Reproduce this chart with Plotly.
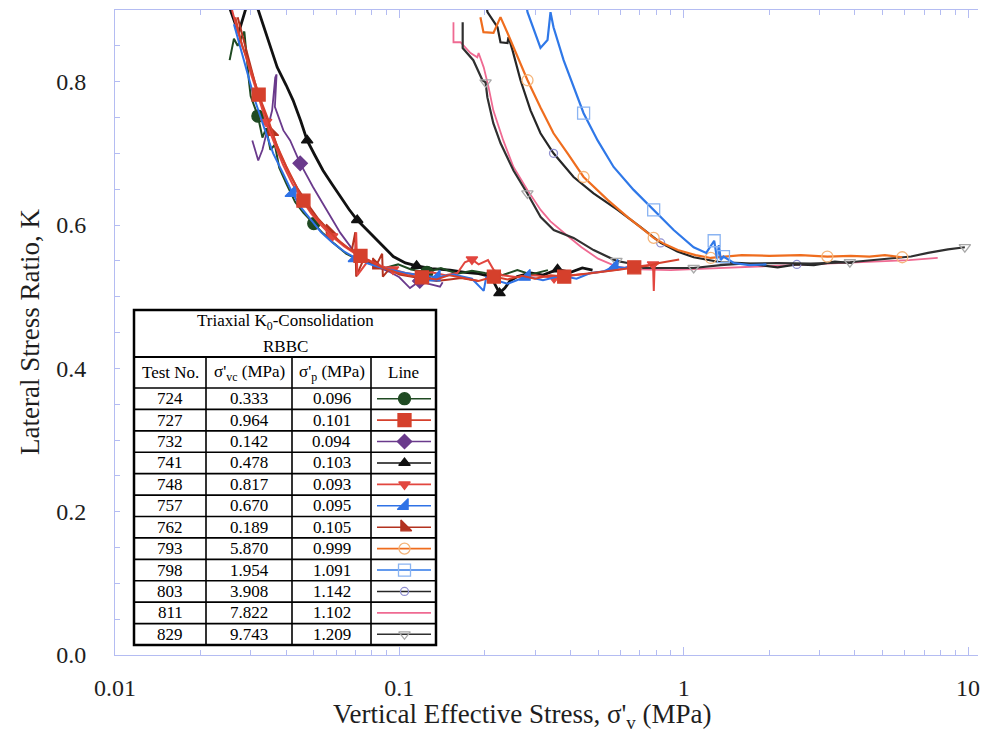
import plotly.graph_objects as go

# ---------------- data (sigma'_v in MPa, K) ----------------
x_724 = [0.0253, 0.0262, 0.0270, 0.0285, 0.0296, 0.0300, 0.0318, 0.0330, 0.0340, 0.0352, 0.0365, 0.0378, 0.0400,
         0.0430, 0.0460, 0.0500, 0.0540, 0.0590, 0.0650, 0.0720, 0.0800, 0.0890, 0.0990, 0.110, 0.125, 0.140,
         0.160, 0.180, 0.200, 0.230, 0.260, 0.290, 0.333]
k_724 = [0.830, 0.860, 0.850, 0.870, 0.800, 0.780, 0.752, 0.722, 0.735, 0.705, 0.712, 0.680, 0.658,
         0.632, 0.617, 0.602, 0.588, 0.574, 0.560, 0.551, 0.545, 0.540, 0.545, 0.538, 0.534, 0.540,
         0.532, 0.536, 0.533, 0.530, 0.537, 0.531, 0.537]

x_727 = [0.0265, 0.0280, 0.0300, 0.0320, 0.0345, 0.0370, 0.0400, 0.0430, 0.0460, 0.0500, 0.0550, 0.0600,
         0.0660, 0.0730, 0.0800, 0.0880, 0.0970, 0.107, 0.120, 0.135, 0.150, 0.170, 0.190, 0.215, 0.240,
         0.270, 0.300, 0.340, 0.380, 0.430, 0.480, 0.540, 0.600, 0.670, 0.750, 0.820, 0.880, 0.964]
k_727 = [0.890, 0.850, 0.818, 0.782, 0.748, 0.712, 0.682, 0.656, 0.634, 0.614, 0.596, 0.581,
         0.568, 0.557, 0.548, 0.540, 0.534, 0.530, 0.527, 0.524, 0.530, 0.526, 0.522, 0.528, 0.524,
         0.529, 0.525, 0.530, 0.528, 0.531, 0.533, 0.536, 0.538, 0.541, 0.543, 0.547, 0.549, 0.552]

x_732 = [0.0304, 0.0319, 0.0330, 0.0345, 0.0357, 0.0366, 0.0370, 0.0365, 0.0376, 0.0391, 0.0413, 0.0448,
         0.0497, 0.0557, 0.0620, 0.0711, 0.0810, 0.0920, 0.100, 0.109, 0.118, 0.127, 0.139, 0.142]
k_732 = [0.718, 0.690, 0.705, 0.735, 0.760, 0.806, 0.810, 0.765, 0.750, 0.732, 0.718, 0.686,
         0.653, 0.621, 0.589, 0.557, 0.544, 0.535, 0.527, 0.512, 0.522, 0.518, 0.514, 0.520]

x_741 = [0.0252, 0.0272, 0.0290, 0.0300, 0.0319, 0.0345, 0.0372, 0.0400, 0.0423, 0.0450, 0.0474, 0.0505,
         0.0539, 0.0580, 0.0620, 0.0665, 0.0711, 0.0770, 0.0835, 0.0900, 0.0952, 0.105, 0.115, 0.130,
         0.151, 0.170, 0.190, 0.210, 0.225, 0.235, 0.245, 0.260, 0.290, 0.320, 0.360, 0.400, 0.440, 0.478]
k_741 = [0.905, 0.868, 0.905, 0.920, 0.900, 0.860, 0.820, 0.795, 0.774, 0.745, 0.718, 0.697,
         0.676, 0.657, 0.639, 0.622, 0.607, 0.593, 0.579, 0.566, 0.556, 0.547, 0.543, 0.539,
         0.537, 0.534, 0.532, 0.528, 0.505, 0.512, 0.522, 0.528, 0.533, 0.530, 0.538, 0.534, 0.540, 0.537]

x_748 = [0.0258, 0.0270, 0.0285, 0.0300, 0.0320, 0.0340, 0.0365, 0.0390, 0.0420, 0.0450, 0.0490, 0.0530,
         0.0580, 0.0640, 0.0700, 0.0705, 0.0712, 0.0780, 0.0860, 0.0950, 0.105, 0.115, 0.130, 0.145,
         0.160, 0.170, 0.180, 0.190, 0.205, 0.215, 0.230, 0.260, 0.300, 0.350, 0.400, 0.460, 0.520,
         0.600, 0.680, 0.740, 0.780, 0.785, 0.790, 0.817]
k_748 = [0.900, 0.870, 0.842, 0.812, 0.778, 0.744, 0.712, 0.684, 0.658, 0.638, 0.616, 0.600,
         0.584, 0.570, 0.560, 0.590, 0.530, 0.551, 0.543, 0.538, 0.533, 0.531, 0.534, 0.530,
         0.533, 0.548, 0.552, 0.545, 0.551, 0.537, 0.530, 0.527, 0.530, 0.526, 0.530, 0.532, 0.535,
         0.538, 0.541, 0.543, 0.545, 0.508, 0.543, 0.547]

x_757 = [0.0262, 0.0275, 0.0290, 0.0310, 0.0335, 0.0360, 0.0390, 0.0420, 0.0450, 0.0490, 0.0530, 0.0580,
         0.0640, 0.0700, 0.0780, 0.0870, 0.0960, 0.105, 0.118, 0.135, 0.155, 0.180, 0.198, 0.202, 0.240,
         0.280, 0.320, 0.370, 0.420, 0.470, 0.520, 0.570, 0.620, 0.670]
k_757 = [0.880, 0.850, 0.815, 0.775, 0.735, 0.700, 0.672, 0.645, 0.625, 0.607, 0.590, 0.576,
         0.563, 0.554, 0.546, 0.540, 0.536, 0.533, 0.530, 0.527, 0.531, 0.525, 0.508, 0.527, 0.518,
         0.528, 0.523, 0.529, 0.525, 0.533, 0.535, 0.542, 0.540, 0.545]

x_762 = [0.0270, 0.0290, 0.0310, 0.0330, 0.0355, 0.0380, 0.0410, 0.0440, 0.0480, 0.0520, 0.0570, 0.0620,
         0.0680, 0.0700, 0.0705, 0.0750, 0.0830, 0.0870, 0.0875, 0.0920, 0.100, 0.110, 0.120, 0.135,
         0.150, 0.165, 0.189]
k_762 = [0.890, 0.845, 0.800, 0.765, 0.730, 0.700, 0.672, 0.650, 0.627, 0.608, 0.591, 0.576,
         0.564, 0.590, 0.528, 0.553, 0.544, 0.560, 0.528, 0.538, 0.531, 0.528, 0.525, 0.522,
         0.524, 0.526, 0.522]

x_793 = [0.1928, 0.1976, 0.2143, 0.2268, 0.2401, 0.2603, 0.2823, 0.3136, 0.3485, 0.3905, 0.4446, 0.540,
         0.635, 0.747, 0.784, 0.860, 0.953, 1.10, 1.245, 1.60, 2.00, 2.58, 3.20, 3.87, 4.50, 5.10, 5.87]
k_793 = [0.890, 0.869, 0.868, 0.890, 0.868, 0.834, 0.802, 0.764, 0.728, 0.700, 0.667, 0.635,
         0.611, 0.589, 0.582, 0.573, 0.565, 0.558, 0.554, 0.558, 0.557, 0.558, 0.556, 0.557, 0.556, 0.558, 0.555]

x_798 = [0.276, 0.2823, 0.3136, 0.3319, 0.3401, 0.3485, 0.3781, 0.4100, 0.4446, 0.4980, 0.5669, 0.6666,
         0.7842, 0.9220, 1.084, 1.200, 1.280, 1.310, 1.330, 1.350, 1.380, 1.500, 1.700, 1.954]
k_798 = [0.920, 0.897, 0.847, 0.858, 0.897, 0.876, 0.830, 0.792, 0.756, 0.718, 0.681, 0.649,
         0.621, 0.593, 0.569, 0.561, 0.578, 0.553, 0.572, 0.551, 0.556, 0.547, 0.544, 0.545]

x_803 = [0.200, 0.2041, 0.2214, 0.2268, 0.2401, 0.2420, 0.2500, 0.2668, 0.2893, 0.3136, 0.3485, 0.4100,
         0.4820, 0.5856, 0.7056, 0.7840, 0.830, 0.950, 1.084, 1.350, 1.600, 2.140, 2.500, 2.870, 3.400, 3.908]
k_803 = [0.920, 0.897, 0.876, 0.855, 0.854, 0.862, 0.844, 0.802, 0.760, 0.728, 0.700, 0.667,
         0.644, 0.621, 0.597, 0.583, 0.575, 0.563, 0.555, 0.548, 0.547, 0.541, 0.545, 0.544, 0.549, 0.547]

x_811 = [0.155, 0.155, 0.164, 0.178, 0.188, 0.190, 0.198, 0.206, 0.214, 0.232, 0.252, 0.282, 0.314, 0.340,
         0.390, 0.437, 0.500, 0.581, 0.700, 0.900, 1.20, 1.60, 2.20, 3.00, 3.84, 5.00, 6.20, 7.822]
k_811 = [0.883, 0.855, 0.855, 0.840, 0.834, 0.840, 0.820, 0.792, 0.760, 0.718, 0.681, 0.649, 0.621, 0.605,
         0.585, 0.569, 0.553, 0.542, 0.538, 0.537, 0.539, 0.541, 0.543, 0.545, 0.547, 0.549, 0.551, 0.554]

x_829 = [0.167, 0.167, 0.182, 0.196, 0.201, 0.204, 0.214, 0.227, 0.252, 0.282, 0.314, 0.349, 0.410, 0.482,
         0.580, 0.635, 0.720, 0.830, 0.950, 1.084, 1.350, 1.600, 2.140, 2.800, 3.840, 5.100, 6.300, 7.230,
         8.500, 9.743]
k_829 = [0.883, 0.847, 0.830, 0.802, 0.799, 0.778, 0.742, 0.714, 0.676, 0.644, 0.611, 0.593, 0.582, 0.565,
         0.550, 0.547, 0.540, 0.540, 0.541, 0.540, 0.544, 0.546, 0.547, 0.546, 0.548, 0.553, 0.556, 0.561,
         0.566, 0.569]

test_no = ["724", "727", "732", "741", "748", "757", "762", "793", "798", "803", "811", "829"]
sigma_vc = ["0.333", "0.964", "0.142", "0.478", "0.817", "0.670", "0.189", "5.870", "1.954", "3.908", "7.822", "9.743"]
sigma_p = ["0.096", "0.101", "0.094", "0.103", "0.093", "0.095", "0.105", "0.999", "1.091", "1.142", "1.102", "1.209"]

x_ticks = [0.01, 0.1, 1, 10]
y_ticks = [0.0, 0.2, 0.4, 0.6, 0.8]

DATA = {
    "724": (x_724, k_724), "727": (x_727, k_727), "732": (x_732, k_732), "741": (x_741, k_741),
    "748": (x_748, k_748), "757": (x_757, k_757), "762": (x_762, k_762), "793": (x_793, k_793),
    "798": (x_798, k_798), "803": (x_803, k_803), "811": (x_811, k_811), "829": (x_829, k_829),
}

# ---------------- styles ----------------
# line colour, width, marker symbol, marker fill, marker line colour, marker size, step, offset
STYLE = {
    "724": ("#1f4a22", 2.0, "circle", "#1f4a22", "#1f4a22", 12, 9, 6),
    "727": ("#d5402c", 2.0, "square", "#d5402c", "#d5402c", 13, 5, 3),
    "732": ("#6a3a8c", 1.8, "diamond", "#6a3a8c", "#6a3a8c", 11, 9, 11),
    "741": ("#111111", 2.8, "triangle-up", "#111111", "#111111", 10, 6, 10),
    "748": ("#e2463f", 2.0, "triangle-down", "#e2463f", "#e2463f", 10, 7, 5),
    "757": ("#2f72e6", 2.0, "triangle-se", "#2f72e6", "#2f72e6", 12, 6, 7),
    "762": ("#b3321f", 2.0, "triangle-sw", "#b3321f", "#b3321f", 12, 6, 4),
    "793": ("#ef6d1e", 2.2, "circle-open", "#f5b57a", "#f5b57a", 11, 4, 6),
    "798": ("#2f78e8", 2.2, "square-open", "#8ab4f2", "#8ab4f2", 12, 4, 8),
    "803": ("#262626", 2.2, "circle-open", "#8f8fd0", "#8f8fd0", 8, 6, 10),
    "811": ("#ef6a92", 1.8, None, None, None, 0, 1, 0),
    "829": ("#303030", 2.2, "triangle-down-open", "#a8a8a8", "#a8a8a8", 10, 5, 4),
}

# ---------------- geometry (reference pixels) ----------------
W, H = 982, 738
PL, PR, PT, PB = 115, 978, 10, 655


def fx(px):
    return (px - PL) / (PR - PL)


def fy(py):
    return (PB - py) / (PB - PT)


FONT = "Liberation Serif"
AXC = "#b4bcf2"
TXT = "#1e1e1e"

fig = go.Figure()

order = ["811", "803", "829", "793", "798", "741", "732", "724", "762", "748", "757", "727"]
for key in order:
    xs, ks = DATA[key]
    col, lw, sym, mfill, mline, msz, step, off = STYLE[key]
    fig.add_trace(go.Scatter(x=xs, y=ks, mode="lines", line=dict(color=col, width=lw),
                             showlegend=False, hoverinfo="skip"))
    if sym:
        idx = list(range(off, len(xs), step))
        fig.add_trace(go.Scatter(x=[xs[i] for i in idx], y=[ks[i] for i in idx], mode="markers",
                                 marker=dict(symbol=sym, size=msz, color=mfill,
                                             line=dict(color=mline, width=1.3)),
                                 showlegend=False, hoverinfo="skip", cliponaxis=True))

# ---------------- table legend ----------------
TL, TR, TT = 134, 436, 310
COLS = [206, 292, 371]
Y_TITLE_B, Y_HEAD_B = 357, 388
ROW_H = (645 - Y_HEAD_B) / 12
TB = Y_HEAD_B + 12 * ROW_H

shapes = []
shapes.append(dict(type="rect", xref="paper", yref="paper", x0=fx(TL), x1=fx(TR), y0=fy(TB), y1=fy(TT),
                   line=dict(color="black", width=2.5), fillcolor="rgba(0,0,0,0)", layer="above"))
shapes.append(dict(type="line", xref="paper", yref="paper", x0=fx(TL), x1=fx(TR), y0=fy(Y_TITLE_B),
                   y1=fy(Y_TITLE_B), line=dict(color="black", width=2)))
for i in range(12):
    yy = Y_HEAD_B + i * ROW_H
    shapes.append(dict(type="line", xref="paper", yref="paper", x0=fx(TL), x1=fx(TR), y0=fy(yy), y1=fy(yy),
                       line=dict(color="black", width=1.6)))
for cx in COLS:
    shapes.append(dict(type="line", xref="paper", yref="paper", x0=fx(cx), x1=fx(cx), y0=fy(TB),
                       y1=fy(Y_TITLE_B), line=dict(color="black", width=1.6)))

ann = []
TF = dict(family=FONT, size=17, color="black")


def add_text(px, py, text, font, angle=0):
    ann.append(dict(x=fx(px), y=fy(py), xref="paper", yref="paper", showarrow=False,
                    xanchor="center", yanchor="middle", text=text, font=font, textangle=angle))


add_text((TL + TR) / 2, 322, "Triaxial K<sub>0</sub>-Consolidation", TF)
add_text((TL + TR) / 2, 346, "RBBC", TF)
centers = [(TL + COLS[0]) / 2, (COLS[0] + COLS[1]) / 2, (COLS[1] + COLS[2]) / 2, (COLS[2] + TR) / 2]
heads = ["Test No.", "σ'<sub>vc</sub> (MPa)", "σ'<sub>p</sub> (MPa)", "Line"]
for c, t in zip(centers, heads):
    add_text(c, (Y_TITLE_B + Y_HEAD_B) / 2, t, TF)
for i in range(12):
    yc = Y_HEAD_B + (i + 0.5) * ROW_H
    for c, t in zip(centers[:3], [test_no[i], sigma_vc[i], sigma_p[i]]):
        add_text(c, yc, t, TF)
    col, lw, sym, mfill, mline, msz, step, off = STYLE[test_no[i]]
    fig.add_trace(go.Scatter(x=[fx(COLS[2] + 6), fx(TR - 5)], y=[fy(yc), fy(yc)], xaxis="x2", yaxis="y2",
                             mode="lines", line=dict(color=col, width=1.6),
                             showlegend=False, hoverinfo="skip"))
    if sym:
        fig.add_trace(go.Scatter(x=[fx(centers[3] + 1)], y=[fy(yc)], xaxis="x2", yaxis="y2", mode="markers",
                                 marker=dict(symbol=sym, size=msz, color=mfill, line=dict(color=mline, width=1.3)),
                                 showlegend=False, hoverinfo="skip"))

# axis titles
add_text(522, 716, "Vertical Effective Stress, σ'<sub>v</sub> (MPa)", dict(family=FONT, size=27, color=TXT))
add_text(30, 332, "Lateral Stress Ratio, K", dict(family=FONT, size=27, color=TXT), angle=-90)

fig.update_layout(
    width=W, height=H,
    margin=dict(l=PL, r=W - PR, t=PT, b=H - PB, pad=0),
    paper_bgcolor="white", plot_bgcolor="white",
    font=dict(family=FONT, size=24, color=TXT),
    shapes=shapes, annotations=ann, showlegend=False,
    xaxis=dict(type="log", range=[-2, 1.035], tickmode="array", tickvals=x_ticks,
               ticktext=[str(v) for v in x_ticks], automargin=False,
               showgrid=False, zeroline=False, showline=True, linecolor=AXC, linewidth=1,
               mirror="ticks", ticks="inside", ticklen=8, tickcolor=AXC,
               minor=dict(ticks="inside", ticklen=5, tickcolor=AXC, dtick="D1", showgrid=False),
               ticklabelstandoff=11, tickfont=dict(family=FONT, size=24, color=TXT)),
    yaxis=dict(range=[0, 0.9], tickmode="array", tickvals=y_ticks,
               ticktext=["%.1f" % v for v in y_ticks], automargin=False,
               showgrid=False, zeroline=False, showline=True, linecolor=AXC, linewidth=1,
               ticks="inside", ticklen=5, tickcolor=AXC,
               minor=dict(ticks="inside", ticklen=5, tickcolor=AXC, dtick=0.05, tick0=0, showgrid=False),
               ticklabelstandoff=23, tickfont=dict(family=FONT, size=24, color=TXT)),
    xaxis2=dict(domain=[0, 1], range=[0, 1], overlaying="x", anchor="y2", visible=False),
    yaxis2=dict(domain=[0, 1], range=[0, 1], overlaying="y", anchor="x2", visible=False),
)

fig.write_html("out.html", config={"displayModeBar": False},
               post_script="document.body.style.margin='0px';document.body.style.overflow='hidden';")
